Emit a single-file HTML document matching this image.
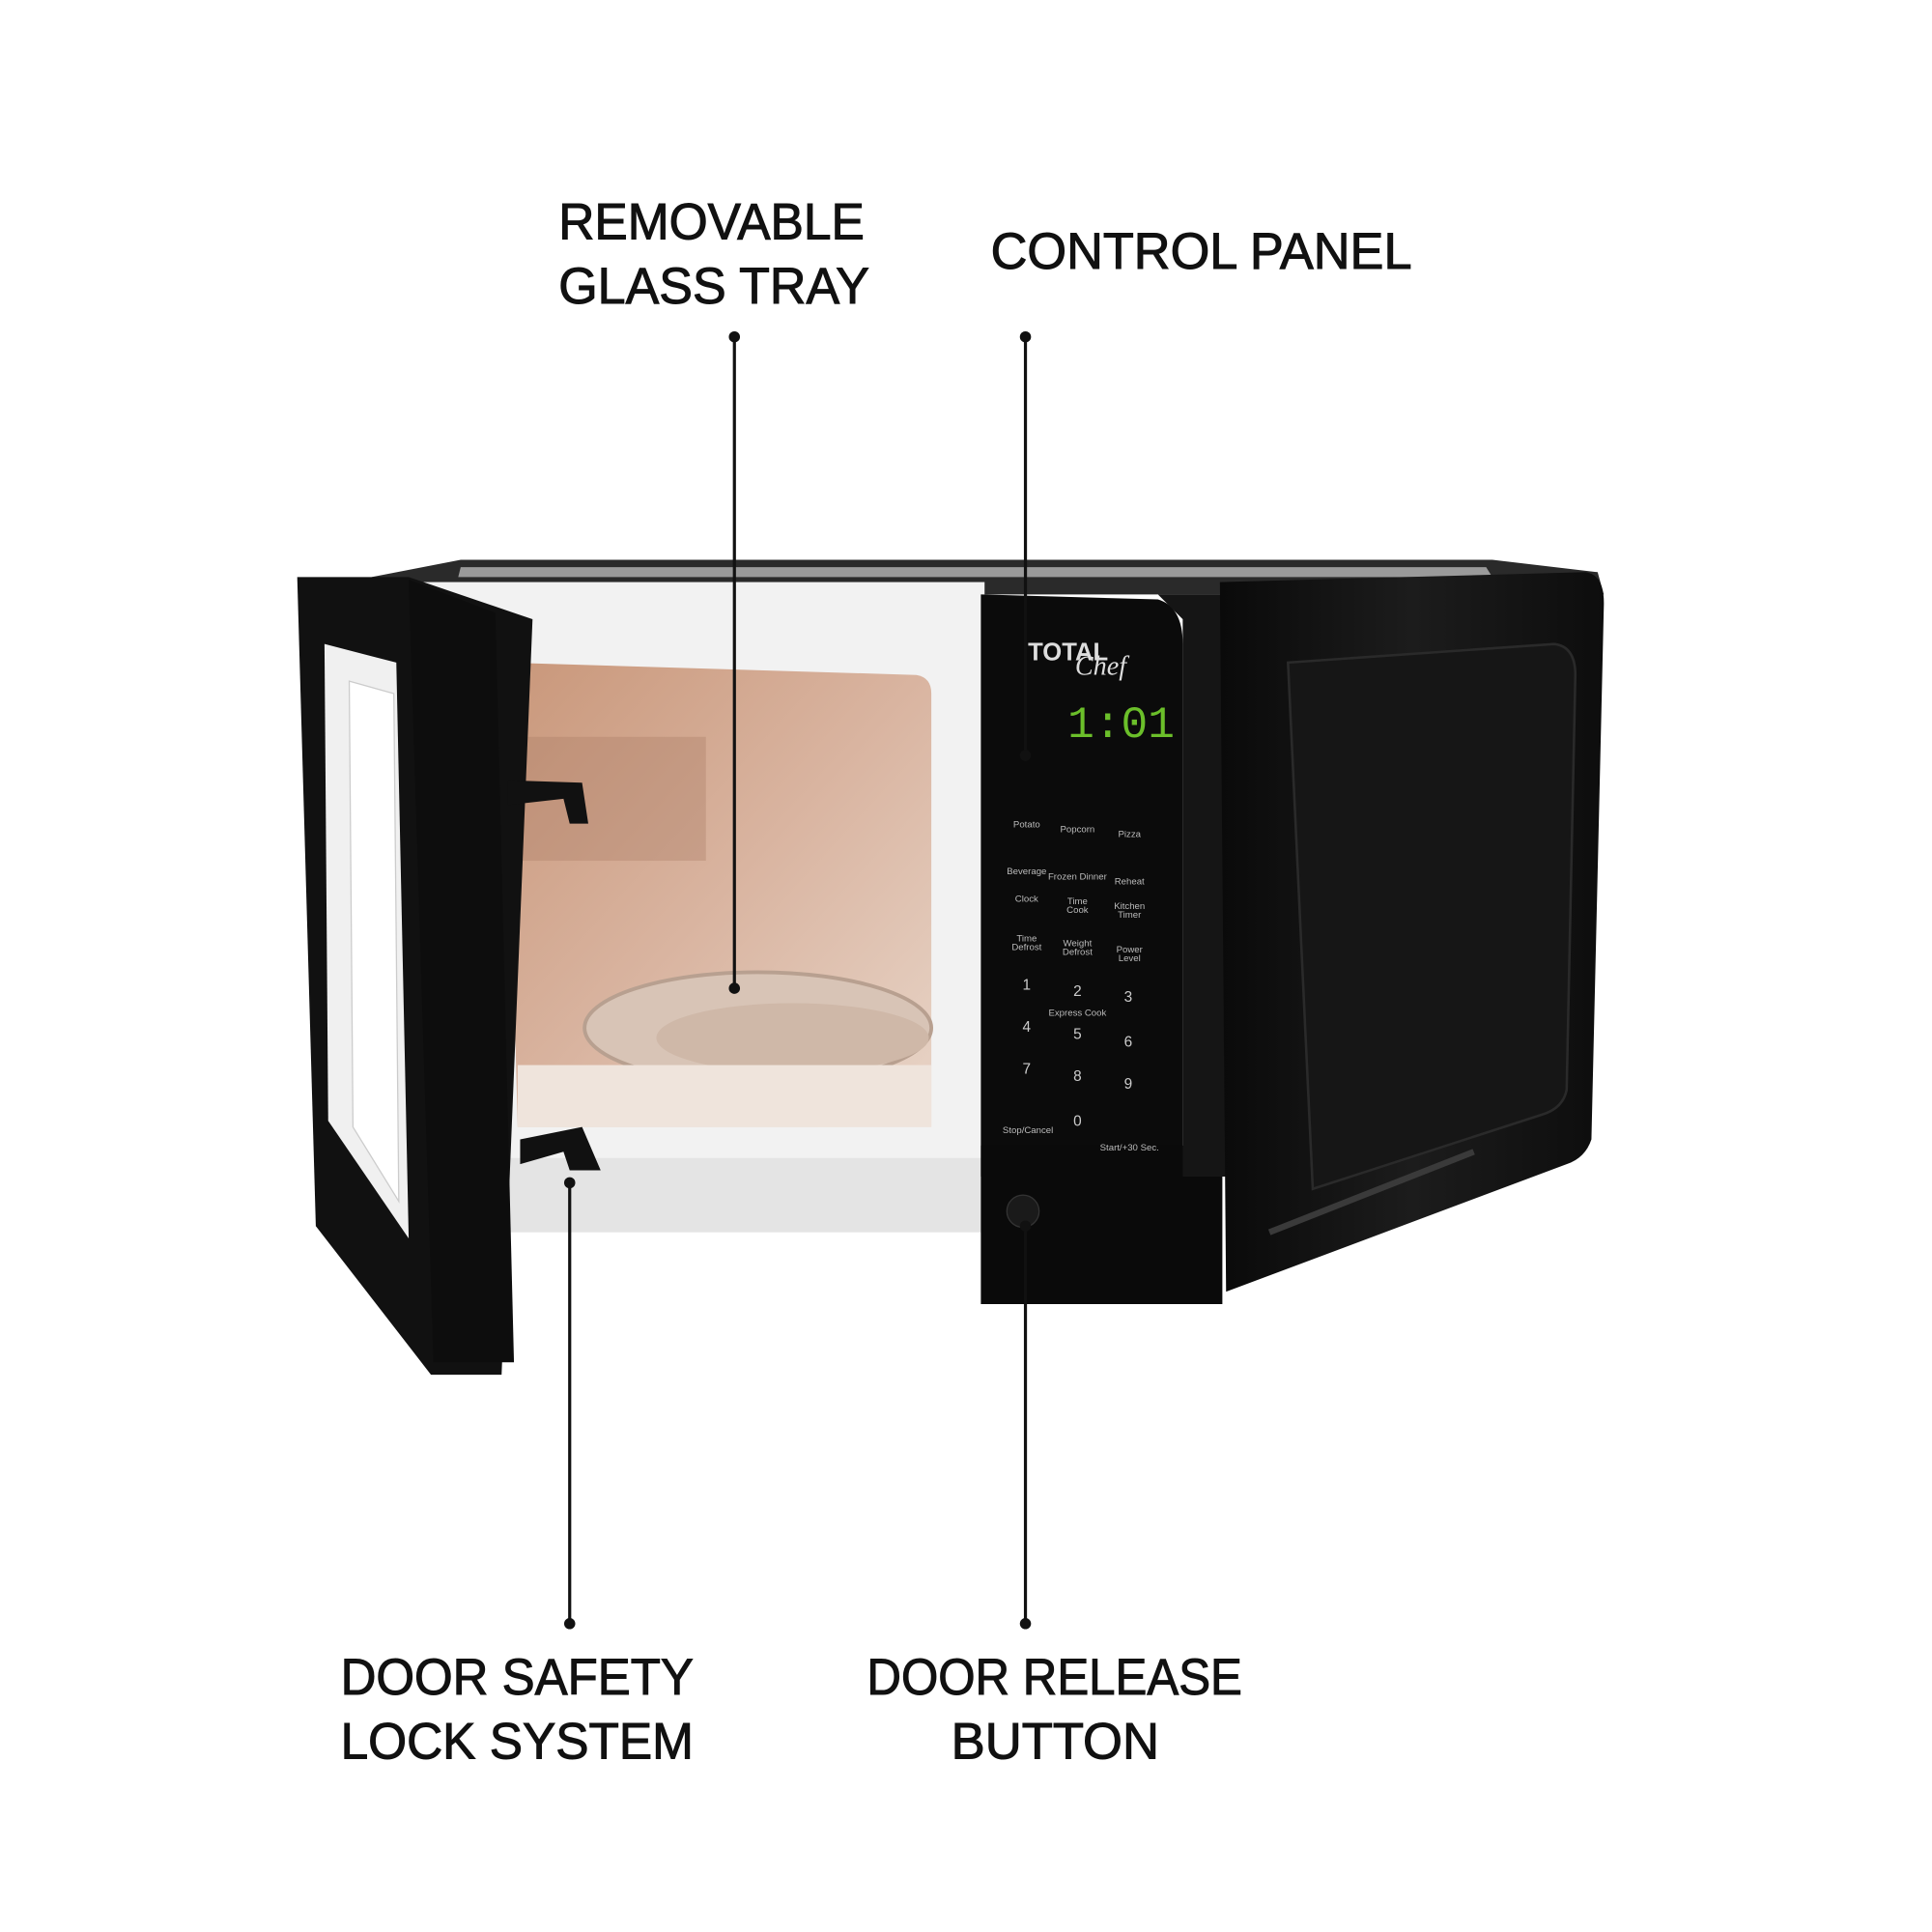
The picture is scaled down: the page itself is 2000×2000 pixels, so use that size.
<!DOCTYPE html>
<html><head><meta charset="utf-8"><style>html,body{margin:0;padding:0;background:#fff}svg{display:block}</style></head>
<body>
<svg width="2000" height="2000" viewBox="0 0 1560 1560" xmlns="http://www.w3.org/2000/svg" font-family="Liberation Sans, sans-serif">
<defs>
<linearGradient id="cav" x1="0" y1="0" x2="1" y2="1"><stop offset="0" stop-color="#c9977a"/><stop offset="0.5" stop-color="#d9b4a0"/><stop offset="1" stop-color="#e8d5c8"/></linearGradient>
<linearGradient id="side" x1="0" y1="0" x2="1" y2="0"><stop offset="0" stop-color="#0a0a0a"/><stop offset="0.5" stop-color="#1c1c1c"/><stop offset="1" stop-color="#0d0d0d"/></linearGradient>
</defs>
<polygon points="300,466 372,452 1205,452 1290,462 1295,480 330,480" fill="#2a2a2a"/>
<polygon points="372,458 1200,458 1205,466 370,466" fill="#9a9a9a"/>
<rect x="330" y="470" width="465" height="525" fill="#f2f2f2"/>
<rect x="410" y="935" width="385" height="60" fill="#e4e4e4"/>
<path d="M408,535 L740,545 Q752,547 752,560 L752,910 L418,910 Z" fill="url(#cav)"/>
<rect x="420" y="595" width="150" height="100" fill="#a87c64" opacity="0.35"/>
<ellipse cx="612" cy="830" rx="140" ry="45" fill="#d8c4b6" stroke="#b8a090" stroke-width="3"/>
<ellipse cx="640" cy="838" rx="110" ry="28" fill="#cfb8a8"/>
<rect x="418" y="860" width="334" height="50" fill="#efe4dc"/>
<path d="M792,480 L935,484 Q955,490 955,520 L955,950 L792,950 Z" fill="#0b0b0b"/>
<rect x="792" y="925" width="195" height="128" fill="#0a0a0a"/>
<polygon points="935,480 990,480 990,950 955,950 955,500" fill="#151515"/>
<path d="M985,470 L1280,462 Q1296,464 1295,490 L1285,920 Q1280,935 1265,940 L990,1043 Z" fill="url(#side)"/>
<path d="M1040,535 L1255,520 Q1272,522 1272,545 L1265,880 Q1262,895 1245,900 L1060,960 Z" fill="#161616" stroke="#2a2a2a" stroke-width="2"/>
<line x1="1025" y1="995" x2="1190" y2="930" stroke="#3a3a3a" stroke-width="5"/>
<text x="830" y="533" fill="#ddd" font-size="20" font-weight="bold">TOTAL</text>
<text x="868" y="545" fill="#ddd" font-size="22" font-style="italic" font-family="Liberation Serif, serif">Chef</text>
<text x="862" y="595" fill="#6bbf2a" font-size="36" font-family="Liberation Mono, monospace">1:01</text>
<g fill="#bbb" font-size="7.5" text-anchor="middle">
<text x="829" y="668">Potato</text><text x="870" y="672">Popcorn</text><text x="912" y="676">Pizza</text>
<text x="829" y="706">Beverage</text><text x="870" y="710">Frozen Dinner</text><text x="912" y="714">Reheat</text>
<text x="829" y="728">Clock</text><text x="870" y="730">Time</text><text x="870" y="737">Cook</text><text x="912" y="734">Kitchen</text><text x="912" y="741">Timer</text>
<text x="829" y="760">Time</text><text x="829" y="767">Defrost</text><text x="870" y="764">Weight</text><text x="870" y="771">Defrost</text><text x="912" y="769">Power</text><text x="912" y="776">Level</text>
<text x="870" y="820">Express Cook</text><text x="830" y="915">Stop/Cancel</text><text x="912" y="929">Start/+30 Sec.</text>
</g>
<g fill="#ccc" font-size="12" text-anchor="middle">
<text x="829" y="799">1</text><text x="870" y="804">2</text><text x="911" y="809">3</text>
<text x="829" y="833">4</text><text x="870" y="839">5</text><text x="911" y="845">6</text>
<text x="829" y="867">7</text><text x="870" y="873">8</text><text x="911" y="879">9</text>
<text x="870" y="909">0</text>
</g>
<circle cx="826" cy="978" r="13" fill="#1a1a1a" stroke="#333"/>
<polygon points="240,466 330,466 430,500 405,1110 348,1110 255,990" fill="#111"/>
<polygon points="262,520 320,535 330,1000 265,905" fill="#f0f0f0"/>
<polygon points="282,550 318,560 322,970 285,910" fill="#fff" stroke="#ccc"/>
<polygon points="330,468 400,495 415,1100 350,1100" fill="#0d0d0d"/>
<polygon points="410,630 470,632 475,665 460,665 455,645 410,650" fill="#111"/>
<polygon points="420,920 470,910 485,945 460,945 455,930 420,940" fill="#111"/>
<g stroke="#111" stroke-width="2.5">
<line x1="593" y1="272" x2="593" y2="798"/>
<line x1="828" y1="272" x2="828" y2="610"/>
<line x1="460" y1="955" x2="460" y2="1311"/>
<line x1="828" y1="990" x2="828" y2="1311"/>
</g>
<g fill="#111">
<circle cx="593" cy="272" r="4.5"/><circle cx="593" cy="798" r="4.5"/>
<circle cx="828" cy="272" r="4.5"/><circle cx="828" cy="610" r="4.5"/>
<circle cx="460" cy="955" r="4.5"/><circle cx="460" cy="1311" r="4.5"/>
<circle cx="828" cy="990" r="4.5"/><circle cx="828" cy="1311" r="4.5"/>
</g>
<g fill="#111" stroke="#111" stroke-width="0.8" font-size="41">
<text x="451" y="193" textLength="247" lengthAdjust="spacingAndGlyphs">REMOVABLE</text>
<text x="451" y="245" textLength="251" lengthAdjust="spacingAndGlyphs">GLASS TRAY</text>
<text x="800" y="217" textLength="340" lengthAdjust="spacingAndGlyphs">CONTROL PANEL</text>
<text x="275" y="1368" textLength="285" lengthAdjust="spacingAndGlyphs">DOOR SAFETY</text>
<text x="275" y="1420" textLength="285" lengthAdjust="spacingAndGlyphs">LOCK SYSTEM</text>
<text x="700" y="1368" textLength="303" lengthAdjust="spacingAndGlyphs">DOOR RELEASE</text>
<text x="768" y="1420" textLength="168" lengthAdjust="spacingAndGlyphs">BUTTON</text>
</g>
</svg>
</body></html>
